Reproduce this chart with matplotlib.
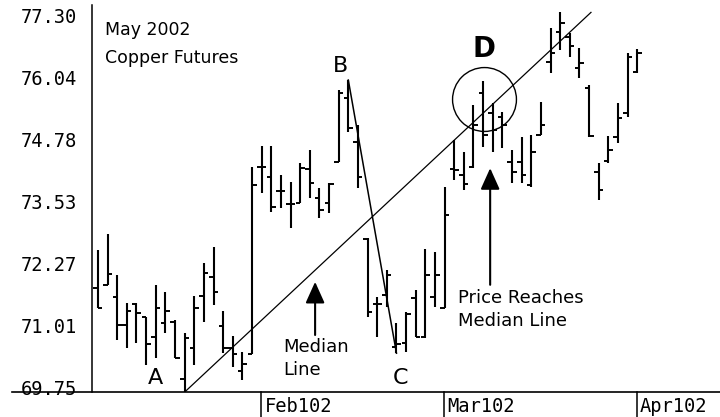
import matplotlib.pyplot as plt
import matplotlib.transforms as mtransforms

# May 2002 copper futures, daily bars (index 0 = first bar shown in January)
HIGHS = [72.54, 72.86, 72.03, 71.46, 71.46, 71.18, 71.83, 71.68, 71.12, 70.85,
         71.60, 72.27, 72.60, 71.30, 70.79, 70.46, 74.22, 74.65, 74.65, 74.06,
         73.92, 74.31, 74.57, 73.80, 73.90, 75.79, 75.99, 75.08, 72.78, 71.58,
         72.13, 71.05, 71.28, 71.73, 72.56, 72.50, 73.82, 74.77, 74.53, 75.48,
         75.97, 75.52, 75.34, 74.57, 74.83, 74.87, 75.55, 77.05, 77.37, 76.95,
         76.64, 75.89, 74.31, 74.85, 75.52, 76.54, 76.62]
LOWS = [71.36, 71.83, 70.71, 70.55, 70.65, 70.20, 70.34, 70.85, 70.34, 69.65,
        70.20, 71.08, 71.42, 70.44, 70.16, 69.90, 70.42, 73.70, 73.31, 73.39,
        72.98, 73.49, 73.59, 73.19, 73.29, 74.33, 74.94, 73.80, 71.18, 70.77,
        71.38, 70.44, 70.46, 70.77, 70.75, 71.38, 71.36, 73.96, 73.76, 74.20,
        74.63, 74.53, 74.61, 73.90, 73.90, 73.82, 74.87, 76.13, 76.60, 76.46,
        76.03, 74.83, 73.55, 74.31, 74.71, 75.24, 76.13]
OPENS = [71.77, 71.83, 71.58, 71.01, 71.44, 71.18, 70.77, 71.05, 71.08, 69.92,
         70.55, 71.60, 71.99, 70.99, 70.55, 70.08, 70.42, 74.22, 74.02, 73.74,
         73.47, 73.49, 74.18, 73.59, 73.49, 74.33, 75.63, 74.73, 72.76, 71.44,
         71.62, 70.57, 70.65, 71.56, 70.77, 71.58, 71.36, 74.18, 74.06, 74.22,
         75.73, 75.32, 75.24, 74.33, 74.33, 73.86, 74.87, 76.36, 76.97, 76.87,
         76.24, 75.83, 74.12, 74.35, 74.83, 75.32, 76.15]
CLOSES = [71.36, 72.05, 71.01, 71.30, 71.26, 70.63, 71.36, 71.30, 70.34, 70.75,
          71.36, 72.07, 71.68, 70.55, 70.42, 70.22, 73.86, 74.22, 73.41, 73.74,
          73.47, 74.20, 73.90, 73.35, 73.88, 75.73, 75.02, 74.02, 71.28, 71.44,
          72.03, 70.63, 71.24, 70.77, 72.03, 72.03, 73.25, 74.16, 73.88, 75.08,
          74.87, 74.98, 75.08, 74.12, 74.06, 74.53, 75.08, 76.54, 77.15, 76.68,
          76.34, 74.85, 73.76, 74.57, 75.22, 76.46, 76.54]

YTICKS = [69.75, 71.01, 72.27, 73.53, 74.78, 76.04, 77.30]
YTICK_LABELS = ["69.75", "71.01", "72.27", "73.53", "74.78", "76.04", "77.30"]

MONTH_IDX = [17, 36, 56]
MONTH_LABELS = ["Feb102", "Mar102", "Apr102"]

# pivot points of the median line: A = low, B = high, C = low
A_IDX, B_IDX, C_IDX = 9, 26, 31
LINE_END = 51.2

MONO = "DejaVu Sans Mono"

fig = plt.figure(figsize=(7.2, 4.17), dpi=100)
ax = fig.add_axes([92 / 720, 25 / 417, 628 / 720, 387 / 417])
ax.set_xlim(-0.62, 64.6)
ax.set_ylim(69.652, 77.515)

# OHLC bars
xs = list(range(len(HIGHS)))
tick = 0.47
ax.vlines(xs, LOWS, HIGHS, color="black", lw=1.5)
ax.hlines(OPENS, [x - tick for x in xs], xs, color="black", lw=1.4)
ax.hlines(CLOSES, xs, [x + tick for x in xs], color="black", lw=1.4)

# B -> C and median line from A through midpoint of BC
ax_, ay = A_IDX, LOWS[A_IDX]
bx, by = B_IDX, HIGHS[B_IDX]
cx, cy = C_IDX, LOWS[C_IDX]
ax.plot([bx, cx], [by, cy], color="black", lw=1.1)
mx, my = (bx + cx) / 2, (by + cy) / 2
slope = (my - ay) / (mx - ax_)
ax.plot([ax_, LINE_END], [ay, ay + slope * (LINE_END - ax_)], color="black", lw=0.9)

# labels of the pivots
ax.text(5.92, 69.94, "A", fontsize=16, ha="center", va="center")
ax.text(25.14, 76.28, "B", fontsize=16, ha="center", va="center")
ax.text(31.38, 69.94, "C", fontsize=16, ha="center", va="center")
ax.text(40.1, 76.62, "D", fontsize=20, fontweight="bold", ha="center", va="center")
ax.plot(40.1, 75.60, marker="o", ms=46, mfc="none", mec="black", mew=1.0)

ax.text(0.73, 77.01, "May 2002", fontsize=12.5, va="center")
ax.text(0.73, 76.44, "Copper Futures", fontsize=12.5, va="center")

ax.text(19.2, 70.33, "Median\nLine", fontsize=13, va="center", ha="left", linespacing=1.38)
ax.text(37.4, 71.33, "Price Reaches\nMedian Line", fontsize=13, va="center", ha="left",
        linespacing=1.38)

arrow = dict(arrowstyle="-|>,head_length=1.0,head_width=0.45", mutation_scale=13,
             color="black", lw=1.5, shrinkA=0, shrinkB=0)
ax.annotate("", xy=(22.55, 71.89), xytext=(22.55, 70.81), arrowprops=arrow)
ax.annotate("", xy=(40.73, 74.20), xytext=(40.73, 71.83), arrowprops=arrow)

# axes styling
for side in ["top", "right", "bottom"]:
    ax.spines[side].set_visible(False)
ax.spines["left"].set_linewidth(1.1)
ax.set_xticks([])
ax.set_yticks(YTICKS)
ax.set_yticklabels(YTICK_LABELS, fontfamily=MONO, fontsize=13.5)
ax.tick_params(axis="y", length=0, pad=11)

ax.plot([-80 / 628, 1], [0, 0], transform=ax.transAxes, clip_on=False,
        color="black", lw=1.2)
trans = mtransforms.blended_transform_factory(ax.transData, ax.transAxes)
for idx, lab in zip(MONTH_IDX, MONTH_LABELS):
    ax.plot([idx - 0.05, idx - 0.05], [0, -25 / 387], transform=trans,
            clip_on=False, color="black", lw=1.1)
    ax.text(idx + 0.3, -15 / 387, lab, transform=trans, ha="left", va="center",
            fontfamily=MONO, fontsize=13.5)

fig.savefig("out.png", dpi=100)
